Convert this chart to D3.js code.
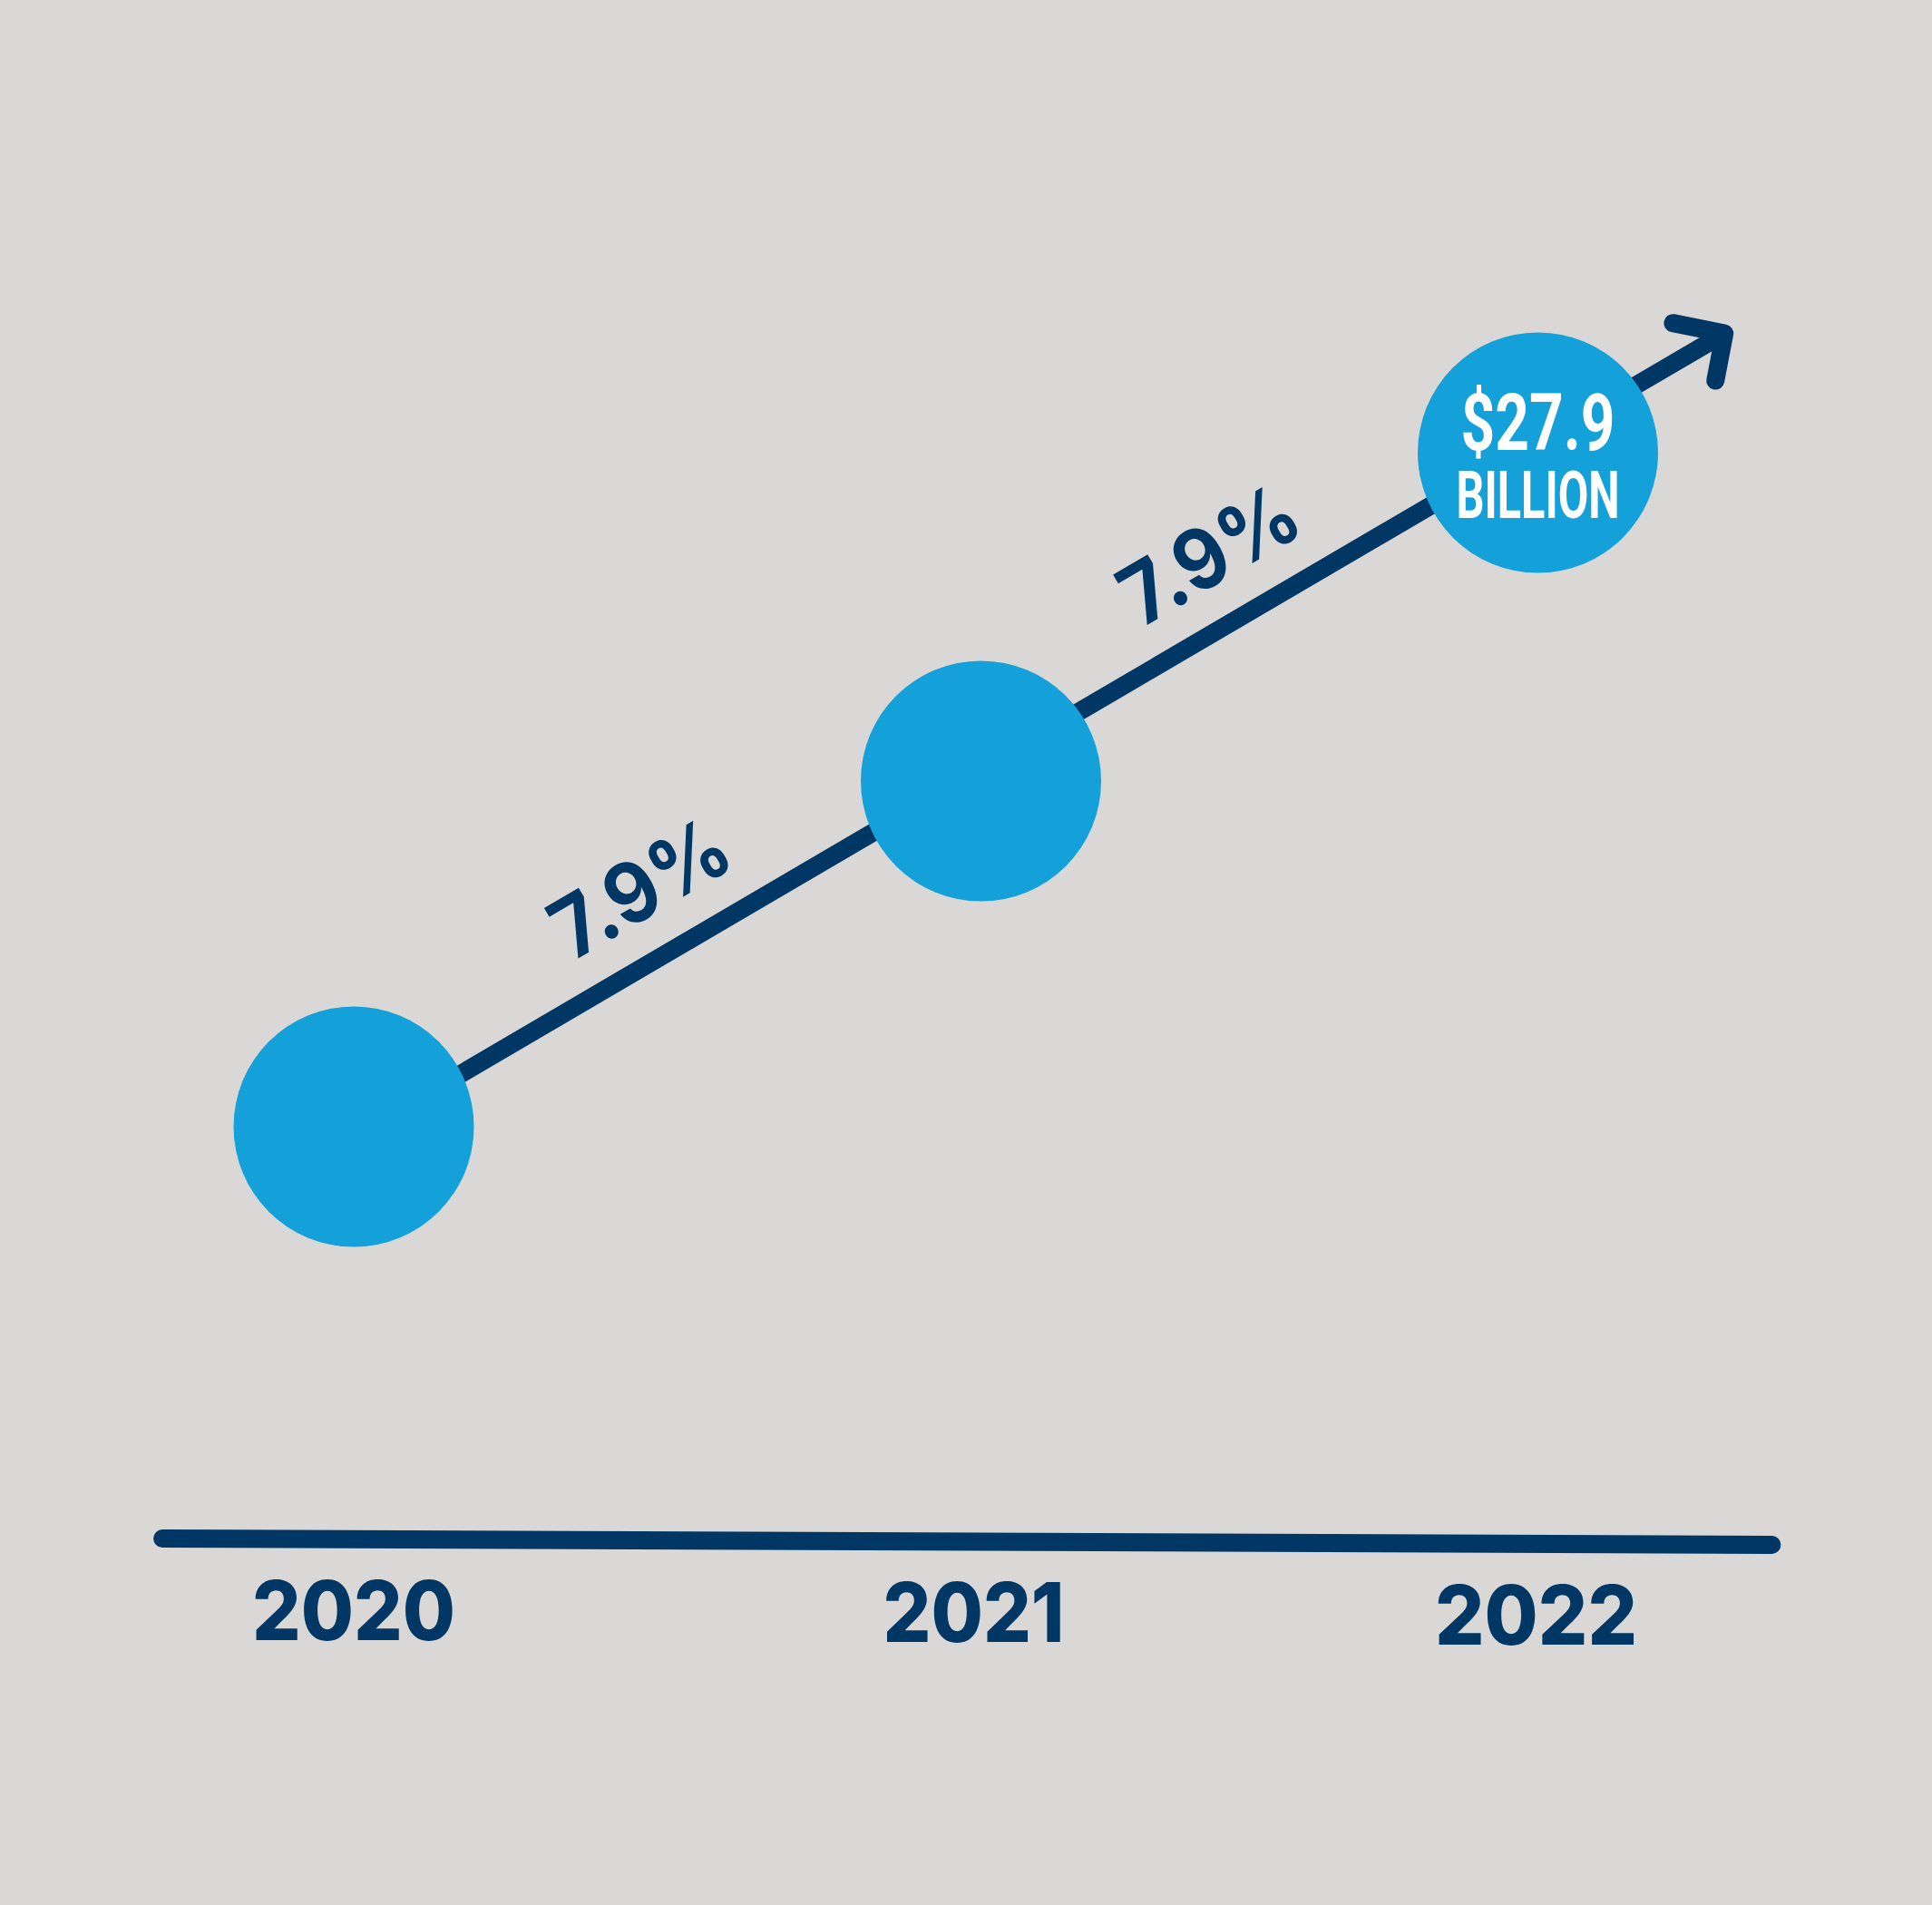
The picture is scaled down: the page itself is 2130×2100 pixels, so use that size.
<!DOCTYPE html>
<html>
<head>
<meta charset="utf-8">
<script src="https://cdn.jsdelivr.net/npm/d3@7"></script>
<style>
  html, body { margin: 0; padding: 0; background: #d9d8d6; }
  svg { display: block; }
</style>
</head>
<body>
<script>
// ---- data ----
const years = [2020, 2021, 2022];
const yearLabels = ["2020", "2021", "2022"];
const values = [24.0, 26.0, 27.9];               // market size, $ billion
const growthLabels = ["7.9%", "7.9%"];
const growthAt = [2020.51, 2021.47];              // where along the years each growth label sits
const trendYears = [2019.844, 2022.335];
const trendValues = [23.61, 28.59];
const axisYears = [2019.695, 2022.42];
const headlineLines = ["$27.9", "BILLION"];

// ---- layout ----
const W = 2130, H = 2100;
const navy = "#003764", blue = "#14a0d9", bg = "#d9d8d6";

const svg = d3.select("body").append("svg").attr("width", W).attr("height", H);
svg.append("rect").attr("width", W).attr("height", H).attr("fill", bg);

const x = d3.scaleLinear().domain([2020, 2021, 2022]).range([390, 1081.5, 1695.5]);
const y = d3.scaleLinear().domain([24.0, 27.9]).range([1242, 499]);
const R = 132.5;

// trend line
const trendPts = trendYears.map((t, i) => [x(t), y(trendValues[i])]);
svg.append("path")
  .attr("d", d3.line()(trendPts))
  .attr("stroke", navy).attr("stroke-width", 20).attr("fill", "none")
  .attr("stroke-linecap", "butt");

// arrowhead
const [p0, p1] = trendPts;
const ang = Math.atan2(p1[1] - p0[1], p1[0] - p0[0]);
const back = ang + Math.PI;
const deg = Math.PI / 180;
const upper = [p1[0] + 58 * Math.cos(back + 41.7 * deg), p1[1] + 58 * Math.sin(back + 41.7 * deg)];
const lower = [p1[0] + 53 * Math.cos(back - 48.8 * deg), p1[1] + 53 * Math.sin(back - 48.8 * deg)];
svg.append("path")
  .attr("d", d3.line()([upper, p1, lower]))
  .attr("stroke", navy).attr("stroke-width", 20).attr("fill", "none")
  .attr("stroke-linecap", "round").attr("stroke-linejoin", "round");

// circles
svg.selectAll("circle.pt").data(years).enter().append("circle")
  .attr("class", "pt")
  .attr("cx", d => x(d))
  .attr("cy", (d, i) => y(values[i]))
  .attr("r", R)
  .attr("fill", blue);

// headline inside last circle (one text block, two lines)
const lastX = x(years[2]), lastY = y(values[2]);
const head = svg.append("text")
  .attr("text-anchor", "middle")
  .attr("font-family", "Roboto, 'DejaVu Sans', sans-serif")
  .attr("font-weight", 700)
  .attr("fill", "#ffffff");
head.append("tspan")
  .attr("x", lastX).attr("y", lastY - 3)
  .attr("font-size", 88)
  .attr("textLength", 170).attr("lengthAdjust", "spacingAndGlyphs")
  .text(headlineLines[0]);
head.append("tspan")
  .attr("x", lastX).attr("y", lastY + 72)
  .attr("font-size", 72)
  .attr("textLength", 180).attr("lengthAdjust", "spacingAndGlyphs")
  .text(headlineLines[1]);

// growth labels along the trend
const slope = (p1[1] - p0[1]) / (p1[0] - p0[0]);
growthLabels.forEach((lab, i) => {
  const gx = x(growthAt[i]);
  const gy = p0[1] + slope * (gx - p0[0]);
  const off = 46;
  const nx = gx + off * Math.sin(ang), ny = gy - off * Math.cos(ang);
  svg.append("text")
    .attr("transform", `translate(${nx + 3},${ny}) rotate(${ang / deg})`)
    .attr("text-anchor", "middle")
    .attr("font-family", "Inter, 'Noto Sans', sans-serif")
    .attr("font-weight", 650).attr("font-size", 92)
    .attr("fill", navy)
    .attr("textLength", 212).attr("lengthAdjust", "spacingAndGlyphs")
    .text(lab);
});

// baseline axis
const axY0 = 1696, axY1 = 1703;
const axisScaleY = d3.scaleLinear().domain(axisYears).range([axY0, axY1]);
svg.append("path")
  .attr("d", d3.line()(axisYears.map(t => [x(t), axisScaleY(t)])))
  .attr("stroke", navy).attr("stroke-width", 20).attr("fill", "none")
  .attr("stroke-linecap", "round");

// year labels
const labelWidths = [224, 200, 223];
const labelDx = [0, -8, -2];
svg.selectAll("text.year").data(yearLabels).enter().append("text")
  .attr("class", "year")
  .attr("x", (d, i) => x(years[i]) + labelDx[i])
  .attr("y", (d, i) => axisScaleY(years[i]) + 111)
  .attr("text-anchor", "middle")
  .attr("font-family", "Inter, 'Noto Sans', sans-serif")
  .attr("font-weight", 800).attr("font-size", 91)
  .attr("fill", navy)
  .attr("textLength", (d, i) => labelWidths[i]).attr("lengthAdjust", "spacingAndGlyphs")
  .text(d => d);
</script>
</body>
</html>
